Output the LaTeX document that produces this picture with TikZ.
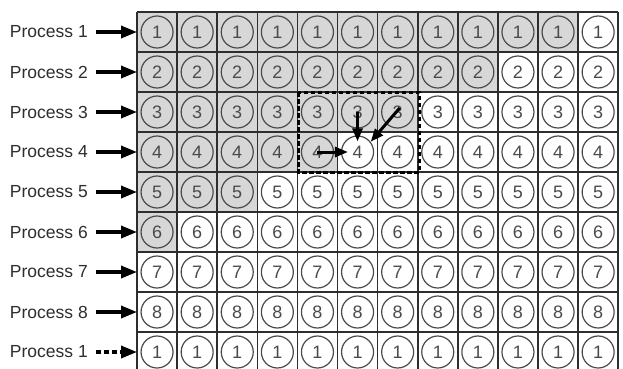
\documentclass[tikz,border=0pt]{standalone}
\usepackage{fontspec}
\setmainfont{Liberation Sans}
\usetikzlibrary{arrows.meta}
\definecolor{cellgray}{HTML}{D7D7D7}
\definecolor{ink}{HTML}{2E2E2E}
\definecolor{numink}{HTML}{4A4A4A}
\begin{document}
\begin{tikzpicture}[x=1pt,y=-1pt,
  num/.style={circle, draw=numink, line width=1.2pt, minimum size=32pt, inner sep=0pt,
              font=\fontsize{18}{18}\selectfont, text=numink},
  lbl/.style={anchor=east, font=\fontsize{17.5}{17.5}\selectfont, text=ink, inner sep=0pt},
  feed/.style={draw=black, line width=3.4pt, shorten <=8pt, -{Triangle[length=16pt,width=12pt]}},
  flow/.style={draw=black, line width=3pt, -{Triangle[length=13pt,width=10pt]}},
  gridline/.style={line width=1.6pt, draw=ink},
  boxline/.style={draw=black, line width=3pt, dash pattern=on 4.5pt off 2.5pt}]
\useasboundingbox (0,0) rectangle (623,368);
\fill[white] (0,0) rectangle (623,368);
% shaded cells
\foreach \r/\n in {1/11,2/9,3/7,4/5,5/3,6/1} {
  \fill[cellgray] (137,{12+40*(\r-1)}) rectangle ({137+40.1*\n},{12+40*\r});
}
% grid
\foreach \i in {0,...,12} {
  \draw[gridline] ({137+40.1*\i},12) -- ({137+40.1*\i},380);
}
\foreach \j in {0,...,9} {
  \draw[gridline] (137,{12+40*\j}) -- (618.2,{12+40*\j});
}
% circles, labels
\foreach \r/\v in {1/1,2/2,3/3,4/4,5/5,6/6,7/7,8/8,9/1} {
  \foreach \c in {1,...,12} {
    \node[num] (c-\r-\c) at ({137+40.1*(\c-0.5)},{12+40*(\r-0.5)}) {\v};
  }
  \node[lbl] (p\r) at (88,{12+40*(\r-0.5)}) {Process \v};
  \coordinate (e\r) at (137,{12+40*(\r-0.5)});
}
% feed arrows
\foreach \r in {1,...,8} {
  \draw[feed] (p\r) -- (e\r);
}
\draw[feed, dash pattern=on 5pt off 3pt] (p9) -- (e9);
% dependency box
\coordinate (b1) at (298,92);
\coordinate (b2) at (419,172);
\draw[boxline] (b1) rectangle (b2);
% dependency arrows
\draw[flow, shorten >=-6pt] (c-3-6.center) -- (c-4-6.north);
\draw[flow] ([shift={(2,-4)}]c-3-7.center) -- (c-4-6.38);
\draw[flow, shorten >=-7pt] (c-4-5.center) -- (c-4-6.west);
\end{tikzpicture}
\end{document}
